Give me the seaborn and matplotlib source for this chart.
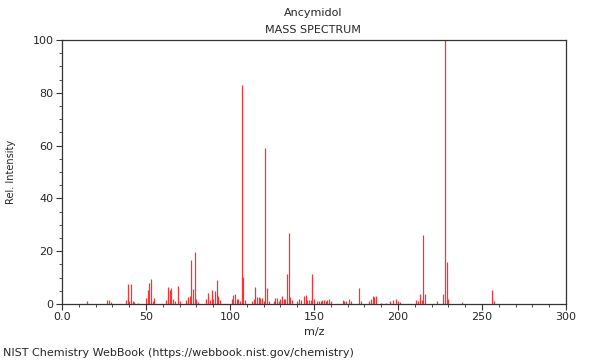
import pandas as pd
import seaborn as sns
import matplotlib.pyplot as plt
from matplotlib.ticker import MultipleLocator

# peaks
mz = [15, 27, 28, 29, 38, 39, 40, 41, 42, 43, 45,
      50, 51, 52, 53, 54, 55, 62, 63, 64, 65, 66, 67, 69, 70,
      74, 75, 76, 77, 78, 79, 80, 81, 86, 87, 88, 89, 90, 91, 92, 93, 94,
      101, 102, 103, 104, 105, 106, 107, 108, 109,
      113, 114, 115, 116, 117, 118, 119, 120, 121, 122, 123,
      126, 127, 128, 129, 130, 131, 132, 133, 134, 135, 136, 137, 140, 141,
      142, 144, 145, 146, 147, 148, 149, 150, 152, 153, 154, 155, 156, 157,
      158, 159, 160, 167, 168, 169, 171, 172, 177, 178, 183, 184, 185, 186, 187,
      190, 193, 195, 197, 199, 200, 201, 211, 212, 213, 214, 215, 216,
      223, 227, 228, 229, 230, 238, 256, 257]
intensity = [1.0, 1.5, 1.5, 0.8, 1.5, 7.6, 1.0, 7.6, 1.0, 0.7, 0.5,
             2.4, 5.4, 7.8, 9.3, 1.0, 2.2, 1.5, 6.4, 5.2, 6.0, 2.0, 1.0, 6.8, 1.0,
             1.5, 2.6, 3.0, 16.7, 5.7, 19.8, 2.0, 0.8, 2.0, 4.2, 1.5, 5.2, 2.0, 5.0, 9.1, 3.0, 1.5,
             2.0, 3.3, 3.8, 2.0, 2.0, 1.0, 83.0, 10.1, 1.5,
             1.3, 2.0, 6.4, 2.8, 2.8, 2.4, 2.4, 1.0, 59.0, 6.0, 1.0,
             1.0, 2.3, 2.3, 1.3, 1.8, 3.0, 2.0, 2.0, 11.2, 27.0, 2.7, 1.5, 1.0, 2.0,
             1.5, 3.0, 3.3, 1.5, 1.5, 1.5, 11.3, 1.8, 1.3, 1.0, 1.3, 1.5, 1.5, 1.0,
             1.5, 2.0, 1.0, 1.5, 1.3, 1.0, 2.0, 1.0, 6.2, 1.0, 1.0, 2.0, 3.0, 2.7, 3.0,
             0.5, 0.5, 1.0, 1.5, 2.0, 1.3, 0.8, 1.5, 1.0, 3.8, 1.5, 26.0, 3.8,
             1.0, 3.8, 100.0, 15.8, 2.0, 0.8, 5.2, 1.0]

compound = "Ancymidol"
source = "NIST Chemistry WebBook (https://webbook.nist.gov/chemistry)"

df = pd.DataFrame({"mz": mz, "intensity": intensity})

sns.set_theme(style="ticks")
plt.rcParams["font.family"] = ["DejaVu Sans"]

fig = plt.figure(figsize=(6, 3.6), dpi=100)
ax = fig.add_axes([62 / 600, 56 / 360, 504 / 600, 264 / 360])

ax.vlines(df["mz"], 0, df["intensity"], color="#ff3030", linewidth=0.9)

ax.set_xlim(0, 300)
ax.set_ylim(0, 100)
ax.xaxis.set_major_locator(MultipleLocator(50))
ax.xaxis.set_minor_locator(MultipleLocator(10))
ax.yaxis.set_major_locator(MultipleLocator(20))
ax.yaxis.set_minor_locator(MultipleLocator(5))
ax.set_xticks([0, 50, 100, 150, 200, 250, 300])
ax.set_xticklabels(["0.0", "50", "100", "150", "200", "250", "300"])
ax.tick_params(which="major", length=4, width=0.8, labelsize=8, color="#333333", pad=2)
ax.tick_params(which="minor", length=2, width=0.6, color="#333333")
for s in ax.spines.values():
    s.set_linewidth(0.9)
    s.set_color("#333333")

ax.set_xlabel("m/z", fontsize=8, labelpad=3)
ax.set_ylabel("Rel. Intensity", fontsize=7, labelpad=12)

fig.text(313 / 600, 1 - 13 / 360, compound, ha="center", va="center", fontsize=8)
fig.text(313 / 600, 1 - 30 / 360, "MASS SPECTRUM", ha="center", va="center", fontsize=8)
fig.text(3 / 600, 1 - 353 / 360, source, ha="left", va="center", fontsize=8)

fig.savefig("out.png", dpi=100)
